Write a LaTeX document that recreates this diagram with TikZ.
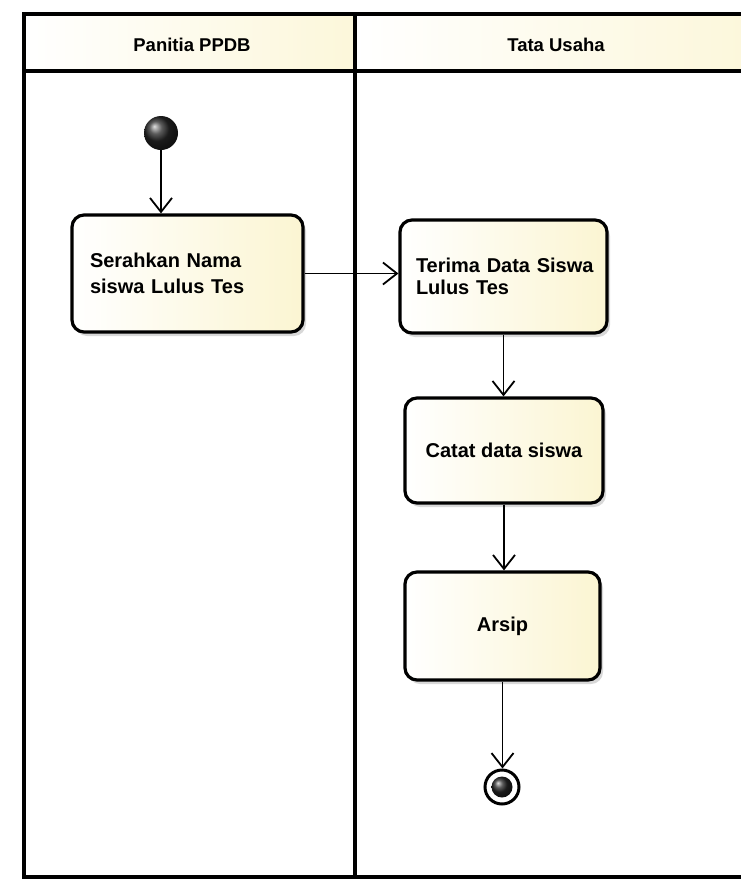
\documentclass[tikz,border=0pt]{standalone}
\usepackage{fontspec}
\setmainfont{Liberation Sans}
\usetikzlibrary{arrows.meta,shadows}
\definecolor{cream}{RGB}{251,245,210}
\definecolor{hdrcream}{RGB}{252,247,218}
\begin{document}
\begin{tikzpicture}[x=1pt,y=-1pt,
  act/.style={draw=black, line width=3.2pt, rounded corners=12pt,
    left color=white, right color=cream,
    drop shadow={shadow xshift=3pt, shadow yshift=-4pt, opacity=0.3},
    font=\bfseries\fontsize{20}{24}\selectfont, inner sep=0pt},
  flow/.style={line width=1.8pt, -{Straight Barb[length=14pt,width=22pt,line width=1.8pt]}},
  lane/.style={line width=4pt},
  hdr/.style={font=\bfseries\fontsize{18.5}{21}\selectfont},
]
\clip (0,0) rectangle (741,881);
\fill[white] (0,0) rectangle (741,881);
% header fills
\shade[left color=white, right color=hdrcream] (24,14) rectangle (355,71);
\shade[left color=white, right color=hdrcream] (355,14) rectangle (760,71);
% frame
\draw[lane] (24,14) rectangle (760,877);
\draw[lane] (24,71) -- (760,71);
\draw[lane] (355,14) -- (355,877);
\node[hdr] (h1) at (192,45) {Panitia PPDB};
\node[hdr] (h2) at (556,45) {Tata Usaha};
% start
\node[circle, minimum size=34pt, inner sep=0pt, shading=ball, ball color=black!85] (start) at (161,133) {};
% activities
\node[act, minimum width=231pt, minimum height=117pt, text width=195pt, align=left,
  font=\bfseries\fontsize{20}{26}\selectfont] (b1) at (187.5,273.5) {Serahkan Nama\\siswa Lulus Tes};
\node[act, minimum width=207pt, minimum height=113pt, text width=175pt, align=left,
  font=\bfseries\fontsize{20}{22}\selectfont] (b2) at (503.5,276.5) {\mbox{Terima Data Siswa}\\Lulus Tes};
\node[act, minimum width=198pt, minimum height=105pt, align=center] (b3) at (504,450.5) {Catat data siswa};
\node[act, minimum width=195pt, minimum height=108pt, align=center] (b4) at (502.5,626) {Arsip};
% end
\node[circle, draw=black, line width=3pt, fill=white, minimum size=34pt, inner sep=0pt] (end) at (502,787) {};
\node[circle, minimum size=21pt, inner sep=0pt, shading=ball, ball color=black!85] (endin) at (end) {};
% flows
\draw[flow] (start) -- (start |- b1.north);
\draw[flow] (b1.east) -- (b1.east -| b2.west);
\draw[flow] (b2.south) -- (b2.south |- b3.north);
\draw[flow] (b3.south) -- (b3.south |- b4.north);
\draw[flow] (b4.south) -- (b4.south |- end.north);
\end{tikzpicture}
\end{document}
